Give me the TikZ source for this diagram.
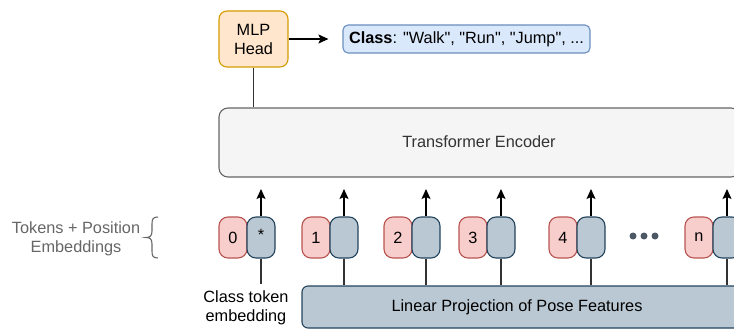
\documentclass[tikz,border=0pt]{standalone}
\usepackage{fontspec}
\setmainfont{Liberation Sans}
\usetikzlibrary{arrows.meta}
\definecolor{orfill}{HTML}{FFE6CC}
\definecolor{ordraw}{HTML}{D79B00}
\definecolor{blfill}{HTML}{DAE8FC}
\definecolor{bldraw}{HTML}{6C8EBF}
\definecolor{rdfill}{HTML}{F8CECC}
\definecolor{rddraw}{HTML}{B85450}
\definecolor{tkfill}{HTML}{BAC8D3}
\definecolor{tkdraw}{HTML}{23445D}
\definecolor{grfill}{HTML}{F5F5F5}
\definecolor{grdraw}{HTML}{666666}
\definecolor{txtgray}{HTML}{333333}
\definecolor{dotcol}{HTML}{4D5866}
\newcommand{\qq}[1]{\textquotedbl#1\textquotedbl}
\begin{document}
\begin{tikzpicture}[x=1pt,y=-1pt,
  every node/.style={font=\fontsize{16.3}{19}\selectfont, inner sep=0pt},
  box/.style={draw, line width=1.1pt, rounded corners=#1},
  box/.default=8pt,
  redtok/.style={box=9pt, fill=rdfill, draw=rddraw, minimum width=28pt, minimum height=41pt},
  bluetok/.style={box=9pt, fill=tkfill, draw=tkdraw, minimum width=28pt, minimum height=41pt},
  arr/.style={-{Stealth[length=10pt,width=9pt,inset=2pt]}, line width=1.1pt, black},
  conn/.style={line width=1.1pt, draw=txtgray},
]
\useasboundingbox (0,0) rectangle (734,329);
\clip (0,0) rectangle (734,329);

% MLP head and class output
\node[box=8pt, fill=orfill, draw=ordraw, minimum width=69pt, minimum height=56pt, align=center] (mlp) at (253.5,39) {MLP\\Head};
\node[box=5pt, fill=blfill, draw=bldraw, minimum width=247pt, minimum height=28pt] (cls) at (466.5,39) {\textbf{Class}: \qq{Walk}, \qq{Run}, \qq{Jump}, ...};
\draw[arr, shorten >=14pt] (mlp.east) -- (cls.west);

% encoder
\node[box=9pt, fill=grfill, draw=grdraw, minimum width=521pt, minimum height=69pt] (enc) at (479.5,142.5) {};
\node[text=txtgray] (enctxt) at (479,142) {Transformer Encoder};
\draw[conn] (mlp.south) -- (mlp.south |- enc.north);

% projection
\node[box=6pt, fill=tkfill, draw=tkdraw, minimum width=438pt, minimum height=42pt] (proj) at (521,307) {};
\node (projtxt) at (517,307) {Linear Projection of Pose Features};

% tokens
\foreach \i/\x/\lab in {0/219/0, 1/302/1, 2/384/2, 3/459/3, 4/549/4, 5/685/n} {
  \node[redtok] (r\i) at (\x+14,237.5) {\lab};
  \node[bluetok] (b\i) at (\x+42,237.5) {};
  \coordinate (t\i) at (\x+42,189);
  \draw[arr] (b\i.north) -- (t\i);
}
\node (star) at ([yshift=3pt]b0.center) {*};
\foreach \i in {1,...,5} {
  \draw[conn] (b\i.south) -- (b\i.south |- proj.north);
}

% dots
\foreach \k/\dx in {1/633, 2/644, 3/655} {
  \fill[dotcol] (\dx,236) circle (3.5pt);
}

% class token embedding
\coordinate (ct) at (b0.south |- 0,284);
\draw[conn] (b0.south) -- (ct);
\node[anchor=north, align=center] (cte) at (246,290) {Class token\\embedding};

% tokens + position embeddings
\node[text=grdraw, align=center] (tpe) at (76,238.5) {Tokens + Position\\Embeddings};
\draw[grdraw, line width=1.1pt] (158,217) .. controls (153,217) and (152,219) .. (152,224) -- (152,231)
  .. controls (152,236) and (150,237.5) .. (146,237.5)
  .. controls (150,237.5) and (152,239) .. (152,244) -- (152,251)
  .. controls (152,256) and (153,258) .. (158,258);
\end{tikzpicture}
\end{document}
